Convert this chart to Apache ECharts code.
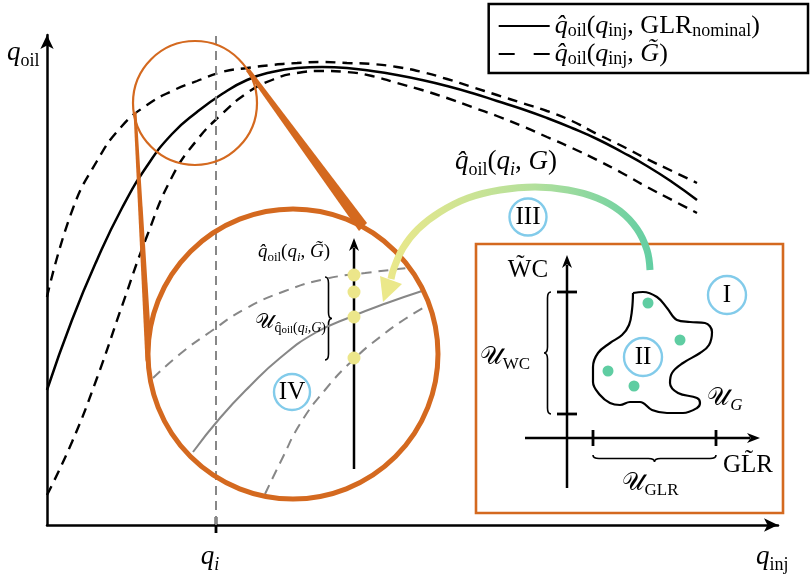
<!DOCTYPE html>
<html>
<head>
<meta charset="utf-8">
<script src="https://cdn.jsdelivr.net/npm/echarts@6/dist/echarts.min.js"></script>
<style>
  html, body { margin: 0; padding: 0; background: #fff; }
  #chart { width: 811px; height: 574px; }
</style>
</head>
<body>
<div id="chart"></div>
<script>
// main curves, in axis units (x from the q_oil axis, y up from the q_inj axis)
const qi = 169;
const qinj = [0, 25, 50, 75, 100, 125, 150, 175, 200, 225, 250, 275, 300, 325, 350, 375, 400, 425, 450, 475, 500, 525, 550, 575, 600, 625, 650];
const nominalOil = [135, 205, 265, 317, 359, 391, 413, 431, 445, 453, 457, 458, 457, 454, 450, 445, 439, 432, 424, 416, 407, 397, 386, 373, 359, 343, 325];
const upperOil = [228, 314, 364, 399, 420, 434, 444, 453, 457, 460, 462, 463, 462, 461, 458, 453, 446, 438, 430, 422, 414, 404, 391, 379, 366, 354, 342];
const lowerOil = [30, 83, 147, 219, 289, 348, 385, 411, 432, 445, 452, 454, 453, 449, 442, 435, 427, 418, 409, 399, 388, 377, 365, 352, 338, 325, 312];

// sketch parts, in page units
const lensSmall = [[195, 103, 62]];
const lensBig = [[293, 354, 145]];
const lensWedges = [
  [[133.5, 112], [136.5, 112], [151, 338], [145.5, 362]],
  [[246, 71], [249.5, 68.5], [367, 223], [359, 231]]
];
const insetSolid = [[193, 452], [220, 418], [250, 386], [280, 358], [315, 333], [353, 316], [387, 303], [422, 291]];
const insetUpper = [[153, 378], [180, 354], [210, 332], [245, 309], [285, 291], [325, 279], [365, 273], [408, 268]];
const insetLower = [[265, 494], [282, 459], [300, 424], [325, 390], [353, 360], [380, 337], [405, 319], [428, 305]];
const insetSamples = [[354, 275], [354, 292], [354, 317], [354, 358]];
const arcPath = [[650, 270], [647, 250], [637, 229], [620, 211], [597, 198], [568, 190], [535, 187], [500, 190], [468, 198], [440, 212], [418, 229], [403, 248], [394, 268], [391, 279]];
const arcHead = [[[380, 276], [402, 284], [383, 302]]];
const boxRect = [[476, 244, 783, 513]];
const arrows = [[354, 469, 354, 238], [567, 488, 567, 255], [525, 438, 760, 438]];
const wcTicks = [[567, 292], [567, 414]];
const glrTicks = [[593, 438], [716, 438]];
const braces = [[325, 277, 325, 360, -7], [551, 292, 551, 414, 7], [593, 455, 716, 455, 7]];
const blob = [[633, 293], [643, 292], [657, 297], [667, 308], [677, 320], [690, 322], [705, 323], [712, 332], [709, 345], [700, 353], [683, 363], [672, 373], [670, 383], [678, 393], [697, 398], [700, 403], [697, 408], [683, 413], [667, 413], [652, 410], [640, 402], [630, 402], [620, 405], [610, 403], [600, 395], [593, 382], [593, 367], [598, 353], [610, 343], [622, 335], [629, 325], [632, 310], [633, 293]];
const scenarios = [[648, 303], [680, 340], [608, 371], [634, 386]];
const stepMarks = [[727, 295, 19], [643, 357, 19], [528, 217, 18.5], [292, 392, 18]];

const SERIF = "'Liberation Serif', 'DejaVu Serif', serif";
const ORANGE = '#d4691f';
const BLUE = '#82cbea';
const GRAY = '#878787';

function pairs(xs, ys) {
  return xs.map(function (x, i) { return [x, ys[i]]; });
}

function mathRich(S, L) {
  L = L || Math.round(S * 1.3);
  const s = Math.round(S * 0.68), sl = Math.max(s, Math.round(L - 0.5 * S));
  const t = Math.round(S * 0.5), tl = Math.max(t, Math.round(sl - 0.25 * S));
  const base = { fontFamily: SERIF, color: '#000' };
  return {
    m: Object.assign({ fontStyle: 'italic', fontSize: S, lineHeight: L }, base),
    r: Object.assign({ fontSize: S, lineHeight: L }, base),
    s: Object.assign({ fontSize: s, lineHeight: sl, verticalAlign: 'bottom' }, base),
    si: Object.assign({ fontStyle: 'italic', fontSize: s, lineHeight: sl, verticalAlign: 'bottom' }, base),
    t: Object.assign({ fontSize: t, lineHeight: tl, verticalAlign: 'bottom' }, base),
    ti: Object.assign({ fontStyle: 'italic', fontSize: t, lineHeight: tl, verticalAlign: 'bottom' }, base),
    sp: Object.assign({ fontSize: S, lineHeight: L, width: 40 }, base)
  };
}

function txt(x, y, text, size, align) {
  return {
    type: 'text', x: x, y: y, z: 100,
    style: {
      text: text, rich: mathRich(size), fill: '#000',
      font: size + 'px ' + SERIF, align: align || 'center', verticalAlign: 'middle'
    }
  };
}

const legendLabels = {
  nominal: '{m|q\u0302}{s|oil}{r|(}{m|q}{s|inj}{r|, GLR}{s|nominal}{r|)}{sp| }',
  uncertain: '{m|q\u0302}{s|oil}{r|(}{m|q}{s|inj}{r|, }{m|G\u0303}{r|)}'
};

function circleItem(style) {
  return function (params, api) {
    const c = api.coord([api.value(0), api.value(1)]);
    const r = api.size([api.value(2), 0])[0];
    return { type: 'circle', shape: { cx: c[0], cy: c[1], r: r }, style: style };
  };
}

function polygonItem(list, style) {
  return function (params, api) {
    const pts = list[params.dataIndex].map(function (p) { return api.coord(p); });
    return { type: 'polygon', shape: { points: pts }, style: style };
  };
}

function arrowItem(params, api) {
  const a = api.coord([api.value(0), api.value(1)]);
  const b = api.coord([api.value(2), api.value(3)]);
  const dx = b[0] - a[0], dy = b[1] - a[1], L = Math.hypot(dx, dy);
  const ux = dx / L, uy = dy / L, hl = 13, hw = 5;
  const bx = b[0] - ux * hl, by = b[1] - uy * hl;
  return {
    type: 'group', children: [
      { type: 'line', shape: { x1: a[0], y1: a[1], x2: bx + ux * 3, y2: by + uy * 3 }, style: { stroke: '#000', lineWidth: 2.5 } },
      { type: 'polygon', shape: { points: [b, [bx - uy * hw, by + ux * hw], [b[0] - ux * hl * 0.72, b[1] - uy * hl * 0.72], [bx + uy * hw, by - ux * hw]] }, style: { fill: '#000' } }
    ]
  };
}

function tickItem(vertical, half) {
  return function (params, api) {
    const c = api.coord([api.value(0), api.value(1)]);
    const shape = vertical
      ? { x1: c[0], y1: c[1] - half, x2: c[0], y2: c[1] + half }
      : { x1: c[0] - half, y1: c[1], x2: c[0] + half, y2: c[1] };
    return { type: 'line', shape: shape, style: { stroke: '#000', lineWidth: 2.8 } };
  };
}

function braceItem(params, api) {
  const a = api.coord([api.value(0), api.value(1)]);
  const b = api.coord([api.value(2), api.value(3)]);
  const d = api.value(4);
  const dx = b[0] - a[0], dy = b[1] - a[1], L = Math.hypot(dx, dy);
  const ux = dx / L, uy = dy / L, nx = -uy, ny = ux;
  const h = d / 2, q = Math.min(6, L / 8), m = L / 2;
  const P = function (s, t) {
    return (a[0] + ux * s + nx * t).toFixed(1) + ' ' + (a[1] + uy * s + ny * t).toFixed(1);
  };
  const path = 'M' + P(0, 0) + ' Q' + P(0, h) + ' ' + P(q, h) + ' L' + P(m - q, h) +
    ' Q' + P(m, h) + ' ' + P(m, d) + ' Q' + P(m, h) + ' ' + P(m + q, h) +
    ' L' + P(L - q, h) + ' Q' + P(L, h) + ' ' + P(L, 0);
  return { type: 'path', shape: { pathData: path }, style: { stroke: '#000', fill: null, lineWidth: 1.6 } };
}

function page(extra) {
  return Object.assign({ xAxisIndex: 1, yAxisIndex: 1 }, extra);
}

const chart = echarts.init(document.getElementById('chart'));
chart.setOption({
  animation: false,
  backgroundColor: '#fff',
  grid: [
    { left: 47, right: 33, top: 35, bottom: 49 },
    { left: 0, right: 0, top: 0, bottom: 0 }
  ],
  xAxis: [
    {
      gridIndex: 0, type: 'value', min: 0, max: 731,
      axisLine: { symbol: ['none', 'arrow'], symbolSize: [10, 14], lineStyle: { color: '#000', width: 2.5 } },
      axisTick: { show: false }, axisLabel: { show: false }, splitLine: { show: false }
    },
    { gridIndex: 1, type: 'value', min: 0, max: 811, show: false }
  ],
  yAxis: [
    {
      gridIndex: 0, type: 'value', min: 0, max: 490,
      axisLine: { symbol: ['none', 'arrow'], symbolSize: [10, 14], lineStyle: { color: '#000', width: 2.5 } },
      axisTick: { show: false }, axisLabel: { show: false }, splitLine: { show: false }
    },
    { gridIndex: 1, type: 'value', min: 0, max: 574, inverse: true, show: false }
  ],
  legend: {
    orient: 'vertical', right: 3, top: 4,
    selectedMode: false,
    data: [{ name: 'nominal' }, { name: 'uncertain', lineStyle: { type: [16, 19] } }],
    itemWidth: 51, itemHeight: 14, itemGap: 1,
    padding: [9, 8, 5, 9],
    borderColor: '#000', borderWidth: 2.5,
    itemStyle: { opacity: 0 },
    lineStyle: { opacity: 1 },
    formatter: function (n) { return legendLabels[n]; },
    textStyle: { fontFamily: SERIF, fontSize: 26, rich: mathRich(26, 28) }
  },
  graphic: [
    txt(7, 53, '{m|q}{s|oil}', 27, 'left'),
    txt(756, 557, '{m|q}{s|inj}', 27, 'left'),
    txt(210, 557, '{m|q}{si|i}', 27, 'center'),
    txt(506, 162, '{m|q\u0302}{s|oil}{r|(}{m|q}{si|i}{r|, }{m|G}{r|)}', 27, 'center'),
    txt(294, 252, '{m|q\u0302}{s|oil}{r|(}{m|q}{si|i}{r|, }{m|G\u0303}{r|)}', 19, 'center'),
    txt(326, 322, '{r|\u{1D4B0}}{s|q\u0302}{t|oil}{s|(}{si|q}{ti|i}{s|,}{si|G}{s|)}', 21, 'right'),
    txt(727, 295, '{r|I}', 25, 'center'),
    txt(643, 357, '{r|II}', 25, 'center'),
    txt(528, 217, '{r|III}', 25, 'center'),
    txt(292, 392, '{r|IV}', 25, 'center'),
    txt(528, 270, '{r|W\u0303C}', 25, 'center'),
    txt(505, 357, '{r|\u{1D4B0}}{s|WC}', 25, 'center'),
    txt(748, 465, '{r|GL\u0303R}', 25, 'center'),
    txt(650, 483, '{r|\u{1D4B0}}{s|GLR}', 25, 'center'),
    txt(725, 398, '{r|\u{1D4B0}}{si|G}', 25, 'center')
  ],
  series: [
    {
      name: 'nominal', type: 'line', data: pairs(qinj, nominalOil), smooth: 0.5, symbol: 'none', z: 2,
      lineStyle: { color: '#000', width: 2.5 },
      markLine: {
        silent: true, symbol: ['none', 'none'], label: { show: false },
        lineStyle: { color: GRAY, type: [9, 6], width: 2 },
        data: [{ xAxis: qi }]
      }
    },
    { name: 'uncertain', type: 'line', data: pairs(qinj, upperOil), smooth: 0.5, symbol: 'none', z: 2, lineStyle: { color: '#000', width: 2.4, type: [10, 7] } },
    { name: 'uncertain', type: 'line', data: pairs(qinj, lowerOil), smooth: 0.5, symbol: 'none', z: 2, lineStyle: { color: '#000', width: 2.4, type: [10, 7] } },
    { type: 'custom', data: [[qi, 0]], z: 3, renderItem: tickItem(true, 8) },

    page({ type: 'custom', data: lensBig, z: 3, renderItem: circleItem({ fill: '#fff', stroke: null }) }),
    page({ type: 'line', data: insetSolid, smooth: 0.5, symbol: 'none', z: 4, lineStyle: { color: GRAY, width: 2 } }),
    page({ type: 'line', data: insetUpper, smooth: 0.5, symbol: 'none', z: 4, lineStyle: { color: GRAY, width: 2, type: [10, 7] } }),
    page({ type: 'line', data: insetLower, smooth: 0.5, symbol: 'none', z: 4, lineStyle: { color: GRAY, width: 2, type: [10, 7] } }),
    page({ type: 'custom', data: arrows, z: 4, renderItem: arrowItem }),
    page({ type: 'custom', data: braces, z: 4, renderItem: braceItem }),
    page({ type: 'scatter', data: insetSamples, z: 5, symbolSize: 13, itemStyle: { color: '#ece68a', opacity: 1 } }),
    page({ type: 'custom', data: lensBig, z: 6, renderItem: circleItem({ fill: null, stroke: ORANGE, lineWidth: 5 }) }),
    page({ type: 'custom', data: lensSmall, z: 6, renderItem: circleItem({ fill: null, stroke: ORANGE, lineWidth: 2.2 }) }),
    page({ type: 'custom', data: lensWedges.map(function (w) { return w[0]; }), z: 6, renderItem: polygonItem(lensWedges, { fill: ORANGE }) }),

    page({ type: 'custom', data: boxRect, z: 4, renderItem: function (params, api) {
      const a = api.coord([api.value(0), api.value(1)]);
      const b = api.coord([api.value(2), api.value(3)]);
      return { type: 'rect', shape: { x: a[0], y: a[1], width: b[0] - a[0], height: b[1] - a[1] }, style: { fill: null, stroke: ORANGE, lineWidth: 2.6 } };
    } }),
    page({ type: 'custom', data: wcTicks, z: 4, renderItem: tickItem(false, 10) }),
    page({ type: 'custom', data: glrTicks, z: 4, renderItem: tickItem(true, 8) }),
    page({ type: 'line', data: blob, smooth: 0.4, symbol: 'none', z: 4, lineStyle: { color: '#000', width: 2.2 } }),
    page({ type: 'scatter', data: scenarios, z: 5, symbolSize: 11, itemStyle: { color: '#5fcda2', opacity: 1 } }),
    page({ type: 'custom', data: stepMarks, z: 5, renderItem: circleItem({ fill: null, stroke: BLUE, lineWidth: 2.4 }) }),

    page({ type: 'line', data: arcPath, smooth: 0.4, symbol: 'none', z: 7,
      lineStyle: { width: 7, cap: 'butt', color: new echarts.graphic.LinearGradient(0, 0, 1, 0, [{ offset: 0, color: '#ebe88a' }, { offset: 0.55, color: '#b3e09c' }, { offset: 1, color: '#62cea3' }]) } }),
    page({ type: 'custom', data: arcHead.map(function (w) { return w[0]; }), z: 7, renderItem: polygonItem(arcHead, { fill: '#ebe88a' }) })
  ]
});
</script>
</body>
</html>
